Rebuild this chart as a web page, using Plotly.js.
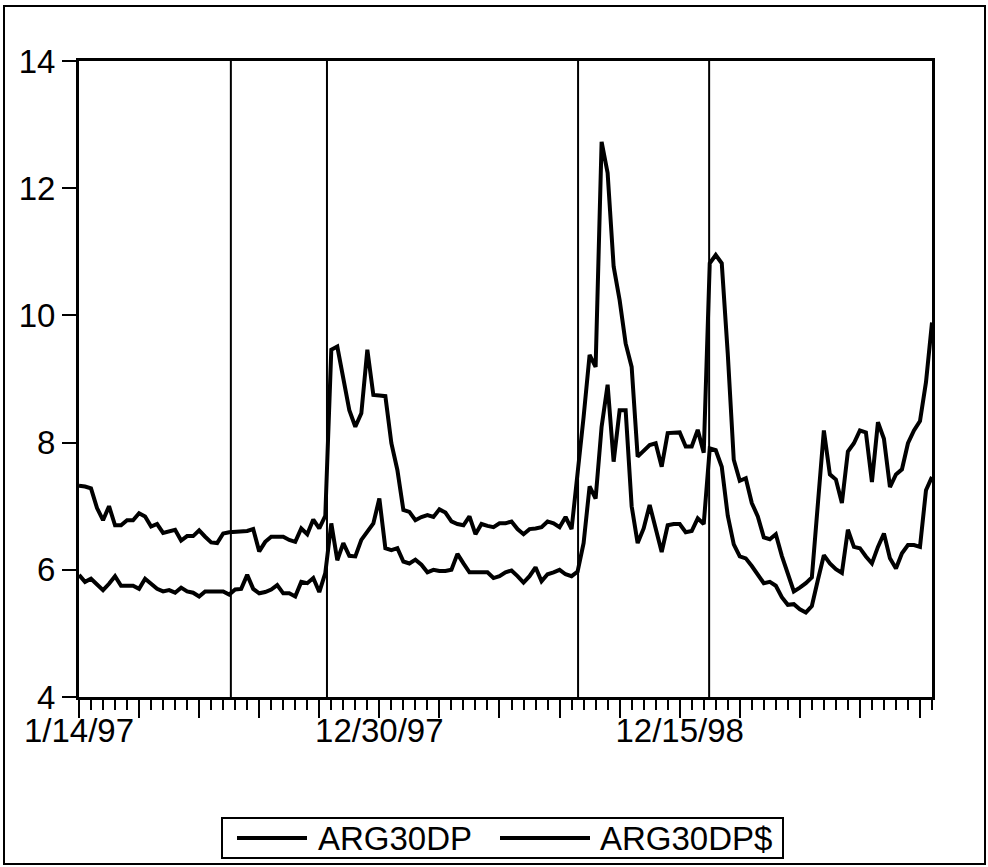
<!DOCTYPE html>
<html>
<head>
<meta charset="utf-8">
<script src="https://cdn.plot.ly/plotly-3.0.1.min.js"></script>
<style>
html,body{margin:0;padding:0;background:#fff;}
#chart{width:988px;height:867px;}
</style>
</head>
<body>
<div id="chart"></div>
<script>
// Weekly observations, index 0 = 1/14/97
const seriesNames = ["ARG30DP", "ARG30DP$"];

const arg30dp = [
  7.32, 7.31, 7.28, 6.97, 6.78, 7.00, 6.70, 6.70, 6.78, 6.78,
  6.89, 6.84, 6.68, 6.72, 6.58, 6.60, 6.63, 6.46, 6.53, 6.53,
  6.62, 6.52, 6.43, 6.42, 6.57, 6.59, 6.60, 6.61, 6.61, 6.64,
  6.29, 6.44, 6.52, 6.52, 6.52, 6.47, 6.44, 6.65, 6.56, 6.79,
  6.65, 6.85, 9.46, 9.51, 8.98, 8.51, 8.25, 8.46, 9.46, 8.75,
  8.74, 8.73, 7.99, 7.57, 6.94, 6.91, 6.78, 6.83, 6.86, 6.83,
  6.95, 6.90, 6.76, 6.72, 6.70, 6.84, 6.56, 6.72, 6.69, 6.67,
  6.73, 6.73, 6.76, 6.64, 6.56, 6.64, 6.65, 6.67, 6.76, 6.73,
  6.67, 6.83, 6.64, 7.50, 8.40, 9.38, 9.19, 12.73, 12.24, 10.77,
  10.24, 9.56, 9.19, 7.78, 7.88, 7.96, 7.99, 7.62, 8.15, 8.16,
  8.16, 7.94, 7.94, 8.20, 7.84, 10.82, 10.95, 10.82, 9.40, 7.73,
  7.40, 7.44, 7.05, 6.84, 6.51, 6.48, 6.56, 6.22, 5.96, 5.66,
  5.72, 5.79, 5.88, 7.00, 8.19, 7.50, 7.42, 7.05, 7.86, 7.99,
  8.19, 8.16, 7.38, 8.32, 8.06, 7.30, 7.50, 7.58, 7.99, 8.19,
  8.34, 8.95, 9.89
];

const arg30dpUsd = [
  5.92, 5.81, 5.86, 5.78, 5.68, 5.78, 5.90, 5.75, 5.75, 5.75,
  5.70, 5.86, 5.78, 5.70, 5.66, 5.68, 5.64, 5.72, 5.66, 5.64,
  5.58, 5.66, 5.66, 5.66, 5.66, 5.61, 5.69, 5.70, 5.92, 5.70,
  5.63, 5.65, 5.69, 5.76, 5.63, 5.63, 5.58, 5.81, 5.79, 5.87,
  5.65, 5.95, 6.73, 6.15, 6.42, 6.22, 6.21, 6.47, 6.60, 6.73,
  7.12, 6.34, 6.31, 6.34, 6.13, 6.10, 6.16, 6.08, 5.96, 6.00,
  5.98, 5.98, 6.00, 6.25, 6.10, 5.96, 5.96, 5.96, 5.96, 5.87,
  5.90, 5.96, 5.99, 5.90, 5.80, 5.90, 6.04, 5.82, 5.93, 5.96,
  6.00, 5.93, 5.90, 5.97, 6.42, 7.31, 7.12, 8.25, 8.91, 7.70,
  8.51, 8.51, 7.00, 6.42, 6.65, 7.02, 6.63, 6.28, 6.70, 6.72,
  6.72, 6.59, 6.61, 6.81, 6.72, 7.91, 7.88, 7.62, 6.85, 6.40,
  6.21, 6.18, 6.06, 5.93, 5.79, 5.81, 5.75, 5.57, 5.45, 5.46,
  5.38, 5.33, 5.43, 5.84, 6.23, 6.10, 6.01, 5.95, 6.63, 6.36,
  6.34, 6.21, 6.10, 6.36, 6.57, 6.18, 6.02, 6.26, 6.39, 6.39,
  6.36, 7.25, 7.46
];

// tick labels (observation index -> date label)
const labelIdx = [0, 50, 100];
const labelText = ["1/14/97", "12/30/97", "12/15/98"];
const majorTickIdx = [0, 10, 20, 30, 40, 50, 60, 70, 80, 90, 100, 110, 120, 130, 140];
// vertical event markers (observation index)
const eventIdx = [25.28, 41.28, 83.08, 104.9];
const yTicks = [4, 6, 8, 10, 12, 14];

const obs = arg30dp.map((_, i) => i);

const FONT = "Liberation Sans, Arial, Helvetica, sans-serif";

const traces = [
  {x: obs, y: arg30dp, name: seriesNames[0], type: "scatter", mode: "lines",
   line: {color: "#000", width: 4}, showlegend: false},
  {x: obs, y: arg30dpUsd, name: seriesNames[1], type: "scatter", mode: "lines",
   line: {color: "#000", width: 4}, showlegend: false}
];

const ticktext = majorTickIdx.map(v => {
  const k = labelIdx.indexOf(v);
  return k >= 0 ? labelText[k] : "";
});

// plot-area pixel geometry for paper conversions
const L = 79, R = 56, T = 61, B = 170, W = 988, H = 867;
const pw = W - L - R, ph = H - T - B;
const px = x => (x - L) / pw;
const py = y => (H - B - y) / ph;

const shapes = eventIdx.map(e => ({
  type: "line", xref: "x", yref: "paper", x0: e, x1: e, y0: 0, y1: 1,
  line: {color: "#000", width: 2}
}));
// outer frame
shapes.push({type: "rect", xref: "paper", yref: "paper",
  x0: px(4), x1: px(985), y0: py(864), y1: py(6), line: {color: "#000", width: 2}});
// legend box and samples
shapes.push({type: "rect", xref: "paper", yref: "paper",
  x0: px(222), x1: px(783), y0: py(858), y1: py(818), line: {color: "#000", width: 2}});
shapes.push({type: "line", xref: "paper", yref: "paper",
  x0: px(237), x1: px(307), y0: py(838), y1: py(838), line: {color: "#000", width: 4}});
shapes.push({type: "line", xref: "paper", yref: "paper",
  x0: px(500), x1: px(590), y0: py(838), y1: py(838), line: {color: "#000", width: 4}});

const annotations = [
  {xref: "paper", yref: "paper", x: px(316), y: py(838), xanchor: "left", yanchor: "middle",
   text: seriesNames[0], showarrow: false, font: {family: FONT, size: 33, color: "#000"}},
  {xref: "paper", yref: "paper", x: px(598), y: py(838), xanchor: "left", yanchor: "middle",
   text: seriesNames[1], showarrow: false, font: {family: FONT, size: 33, color: "#000"}}
];

const layout = {
  width: W, height: H,
  margin: {l: L, r: R, t: T, b: B, pad: 0},
  paper_bgcolor: "#fff", plot_bgcolor: "#fff",
  font: {family: FONT, size: 32, color: "#000"},
  showlegend: false,
  xaxis: {
    range: [0, 142], showgrid: false, zeroline: false,
    showline: true, mirror: true, linecolor: "#000", linewidth: 3,
    tickmode: "array", tickvals: majorTickIdx, ticktext: ticktext,
    ticks: "outside", ticklen: 18, tickwidth: 2, tickcolor: "#000",
    ticklabelstandoff: -16,
    tickfont: {family: FONT, size: 33, color: "#000"},
    minor: {tickmode: "linear", tick0: 0, dtick: 2, ticks: "outside", ticklen: 10, tickwidth: 2, tickcolor: "#000", showgrid: false}
  },
  yaxis: {
    range: [4, 14], showgrid: false, zeroline: false,
    showline: true, mirror: true, linecolor: "#000", linewidth: 3,
    tickmode: "array", tickvals: yTicks, ticktext: yTicks.map(String),
    ticks: "outside", ticklen: 14, tickwidth: 2, tickcolor: "#000",
    tickfont: {family: FONT, size: 33, color: "#000"}
  },
  shapes: shapes,
  annotations: annotations
};

Plotly.newPlot("chart", traces, layout, {displayModeBar: false, staticPlot: true});
</script>
</body>
</html>
